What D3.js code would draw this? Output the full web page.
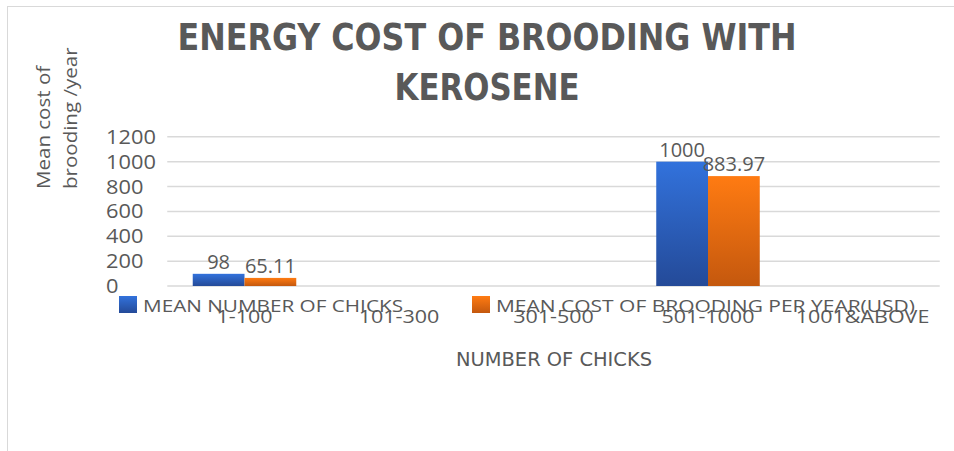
<!DOCTYPE html>
<html>
<head>
<meta charset="utf-8">
<script src="https://cdn.jsdelivr.net/npm/d3@7"></script>
<style>
    body { margin: 0; background: #fff; }
    svg { display: block; }
    text { fill: #595959; }
</style>
</head>
<body>
<div id="chart"></div>
<script>
// data
const categories = ["1-100", "101-300", "301-500", "501-1000", "1001&ABOVE"];
const seriesNames = ["MEAN NUMBER OF CHICKS", "MEAN COST OF BROODING PER YEAR(USD)"];
const meanChicks = [98, null, null, 1000, null];
const meanCost = [65.11, null, null, 883.97, null];
const yTicks = [0, 200, 400, 600, 800, 1000, 1200];

const width = 954, height = 451;
const plot = {left: 167.25, right: 939.75, top: 136.8, bottom: 286};
const bodyFont = "'Open Sans', 'DejaVu Sans', sans-serif";
const narrowFont = "'Liberation Sans Narrow', 'DejaVu Sans Condensed', sans-serif";

const svg = d3.select("#chart").append("svg")
    .attr("width", width)
    .attr("height", height);

// gradients for the bars
const defs = svg.append("defs");
const gradients = [
    {id: "gBlue", top: "#3272dc", bottom: "#244a98"},
    {id: "gOrange", top: "#ff7b12", bottom: "#c4580e"}
];
gradients.forEach(g => {
    let lg = defs.append("linearGradient")
        .attr("id", g.id)
        .attr("x1", 0).attr("y1", 0)
        .attr("x2", 0).attr("y2", 1);
    lg.append("stop").attr("offset", "0%").attr("stop-color", g.top);
    lg.append("stop").attr("offset", "100%").attr("stop-color", g.bottom);
});

// outer border (only top and left visible)
svg.append("rect")
    .attr("x", 7.5).attr("y", 6.5)
    .attr("width", 1200).attr("height", 800)
    .attr("fill", "none")
    .attr("stroke", "#d9d9d9")
    .attr("stroke-width", 1);

// scales
let x = d3.scaleBand()
    .domain(categories)
    .range([plot.left, plot.right])
    .paddingInner(0.33)
    .paddingOuter(0.165);

let x1 = d3.scaleBand()
    .domain([0, 1])
    .range([0, x.bandwidth()]);

let y = d3.scaleLinear()
    .domain([0, 1200])
    .range([plot.bottom, plot.top]);

// stretch text a little wider, the picture's font runs wide
function widen(sel, k) {
    sel.each(function () {
        let len = this.getComputedTextLength();
        d3.select(this)
            .attr("textLength", len * k)
            .attr("lengthAdjust", "spacingAndGlyphs");
    });
}

// gridlines
svg.append("g")
    .selectAll("line")
    .data(yTicks)
    .enter().append("line")
    .attr("x1", plot.left)
    .attr("x2", plot.right)
    .attr("y1", d => y(d))
    .attr("y2", d => y(d))
    .attr("stroke", "#d9d9d9")
    .attr("stroke-width", 1.5);

// y tick labels (left aligned as in the picture)
svg.append("g")
    .selectAll("text")
    .data(yTicks)
    .enter().append("text")
    .attr("x", 106)
    .attr("y", d => y(d))
    .attr("dy", "0.35em")
    .style("font-family", bodyFont)
    .style("font-size", "20px")
    .text(d => d)
    .call(widen, 1.09);

// bars
const series = [meanChicks, meanCost];
const fills = ["url(#gBlue)", "url(#gOrange)"];
const barData = [];
series.forEach((vals, s) => {
    vals.forEach((v, i) => {
        if (v !== null) barData.push({cat: categories[i], s: s, value: v});
    });
});

svg.append("g")
    .selectAll("rect")
    .data(barData)
    .enter().append("rect")
    .attr("x", d => x(d.cat) + x1(d.s))
    .attr("y", d => y(d.value))
    .attr("width", x1.bandwidth())
    .attr("height", d => y(0) - y(d.value))
    .attr("fill", d => fills[d.s]);

// category labels
svg.append("g")
    .selectAll("text")
    .data(categories)
    .enter().append("text")
    .attr("x", d => x(d) + x.bandwidth() / 2)
    .attr("y", 323)
    .attr("text-anchor", "middle")
    .style("font-family", bodyFont)
    .style("font-size", "19px")
    .text(d => d)
    .call(widen, 1.13);

// legend (drawn over the category labels, as in the picture)
const legendX = [119, 472];
const legendLen = [260, 419];
seriesNames.forEach((name, s) => {
    svg.append("rect")
        .attr("x", legendX[s])
        .attr("y", 296)
        .attr("width", 18)
        .attr("height", 17)
        .attr("fill", fills[s]);
    svg.append("text")
        .attr("x", legendX[s] + 24)
        .attr("y", 312)
        .attr("textLength", legendLen[s])
        .attr("lengthAdjust", "spacingAndGlyphs")
        .style("font-family", bodyFont)
        .style("font-size", "17px")
        .text(name);
});

// data labels
svg.append("g")
    .selectAll("text")
    .data(barData)
    .enter().append("text")
    .attr("x", d => x(d.cat) + x1(d.s) + x1.bandwidth() / 2)
    .attr("y", d => y(d.value) - 5)
    .attr("text-anchor", "middle")
    .style("font-family", bodyFont)
    .style("font-size", "20px")
    .text(d => d.value);

// title
const titleLines = ["ENERGY COST OF BROODING WITH", "KEROSENE"];
const titleLen = [619, 185];
svg.append("g")
    .selectAll("text")
    .data(titleLines)
    .enter().append("text")
    .attr("x", 487)
    .attr("y", (d, i) => 50 + i * 50)
    .attr("text-anchor", "middle")
    .attr("textLength", (d, i) => titleLen[i])
    .attr("lengthAdjust", "spacingAndGlyphs")
    .style("font-family", narrowFont)
    .style("font-weight", "bold")
    .style("font-size", "38px")
    .text(d => d);

// y axis title
const yTitle = ["Mean cost of", "brooding /year"];
svg.append("g")
    .selectAll("text")
    .data(yTitle)
    .enter().append("text")
    .attr("transform", (d, i) => `translate(${50 + i * 27}, 189) rotate(-90)`)
    .attr("text-anchor", "start")
    .style("font-family", bodyFont)
    .style("font-size", "19px")
    .text(d => d)
    .call(widen, 1.08);

// x axis title
svg.append("text")
    .attr("x", 554)
    .attr("y", 366)
    .attr("text-anchor", "middle")
    .attr("textLength", 196)
    .attr("lengthAdjust", "spacingAndGlyphs")
    .style("font-family", narrowFont)
    .style("font-size", "19px")
    .text("NUMBER OF CHICKS");
</script>
</body>
</html>
